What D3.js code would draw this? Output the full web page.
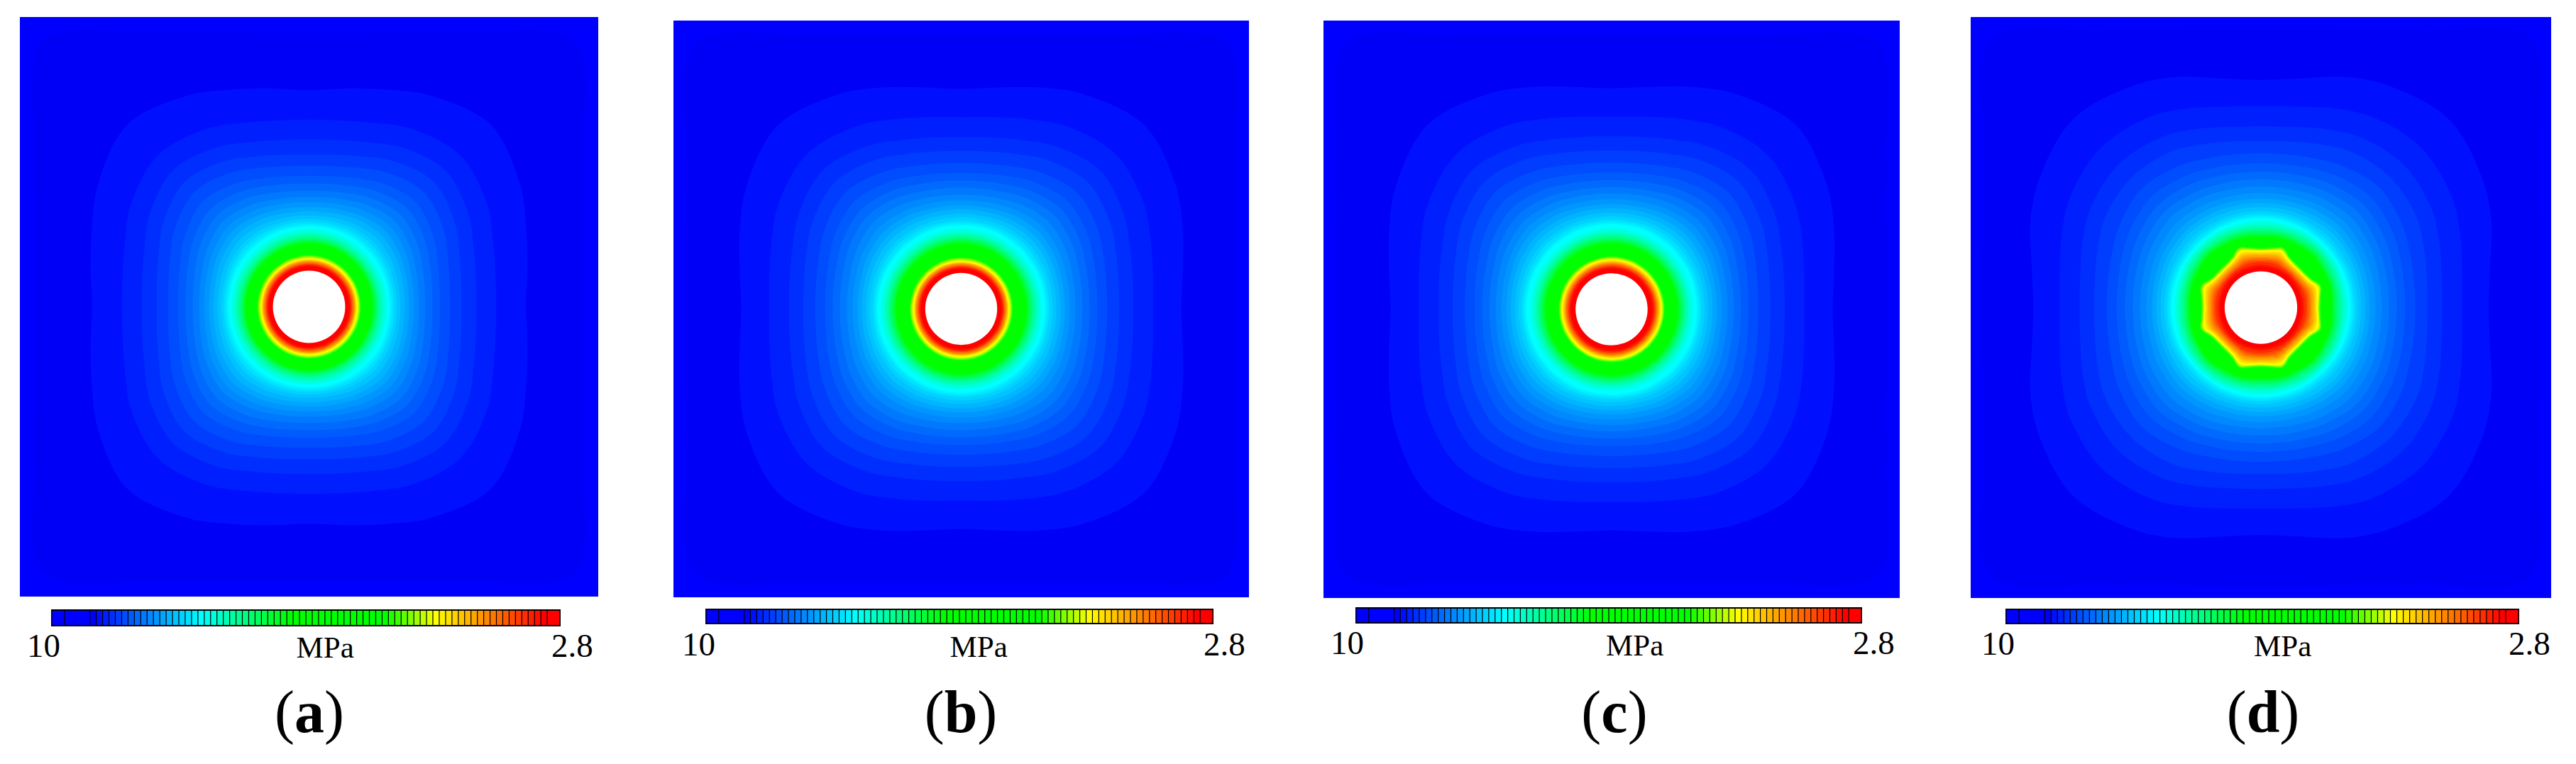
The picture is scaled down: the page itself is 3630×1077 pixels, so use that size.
<!DOCTYPE html>
<html>
<head>
<meta charset="utf-8">
<script src="https://cdn.jsdelivr.net/npm/d3@7"></script>
<style>
  body { margin: 0; background: #fff; }
  text { font-family: "Liberation Serif", "Times New Roman", serif; fill: #000; }
</style>
</head>
<body>
<div class="stress-maps"></div>
<script>
// colour bar: 80 cells from 10 MPa (blue) to 2.8 MPa (red)
var barLabels = ["10", "2.8"];
var barUnit = "MPa";
var panelNames = ["a", "b", "c", "d"];
var barRuns = [2, 4].concat(d3.range(72).map(function() { return 1; }), [2]);
var cellStops = [0, 5, 6, 7, 23, 37, 52, 60, 77, 79];
var cellColors = ["#0000ff", "#0000ff", "#0000f6", "#0010ff", "#00ffff", "#00ff00", "#00ff00", "#ffff00", "#ff0000", "#ff0000"];

// contours are read along rays, angle from the nearest axis, mirrored round the hole
var rayAngles = [0, 10, 20, 30, 45];
var holeRadius = 51;

// colour cell of every contour, outside to inside
var outerLevels = [6, 7, 8, 9, 10, 11, 12, 13, 14, 15, 16, 17, 18, 19, 20, 21, 22, 23];
var innerLevels = [25, 27, 29, 31, 33, 35, 37, 53, 54, 56, 58, 60, 62, 64, 66, 68, 70, 72, 74, 76, 77];

var outerA = [
  [387, 393, 412, 447, 530], [306, 313, 326, 344, 363], [264, 267, 276, 290, 302],
  [236, 239, 247, 260, 272], [215, 218, 225.5, 237.5, 249], [199, 201.5, 208.5, 219, 229],
  [185, 187, 193, 202, 211], [174, 176, 181, 188.5, 196], [164, 165.5, 170, 176.5, 183],
  [155, 156.5, 160, 165.5, 171], [148, 149, 152, 156.5, 161], [141, 142, 144.5, 148, 152],
  [135, 135.5, 138, 141, 144], [129, 129.5, 131, 133.5, 136], [124, 124.5, 125.5, 127.5, 129],
  [120, 120.5, 121, 122.5, 124], [117, 117, 117.5, 118.5, 119], [114, 114, 114.5, 115, 115]
];
var outerB = [
  [390, 396, 414, 449, 532], [312, 319, 334, 351, 368], [272, 276, 286, 299, 310],
  [244, 247, 254.5, 266.5, 278], [224, 226.5, 233.5, 244, 254], [207, 209, 215, 224, 233],
  [193, 195, 200, 207.5, 215], [182, 183.5, 187.5, 194, 200], [172, 173, 176.5, 182, 187],
  [162, 163, 166, 170.5, 175], [154, 155, 157, 160.5, 164], [147, 147.5, 149.5, 152.5, 155],
  [141, 141.5, 143, 145, 147], [135, 135.5, 136.5, 138.5, 140], [130, 130, 131, 132, 133],
  [125, 125, 126, 127, 128], [122, 122, 122.5, 122.5, 123], [119, 119, 119.5, 119.5, 120]
];
var outerC = [
  [390, 396, 414, 449, 532], [313, 320, 335, 352, 369], [273, 277, 287, 300, 311],
  [245, 248, 255.5, 267.5, 279], [225, 227.5, 234.5, 245, 255], [208, 210, 216, 225, 234],
  [194, 196, 201, 208.5, 216], [183, 184.5, 188.5, 195, 201], [173, 174, 177.5, 183, 188],
  [164, 165, 168, 172, 176], [156, 157, 159, 162.5, 166], [149, 149.5, 151.5, 154.5, 157],
  [143, 143.5, 145, 147, 149], [137, 137.5, 138.5, 140.5, 142], [132, 132, 133, 134, 135],
  [127, 127, 128, 129, 130], [124, 124, 124.5, 124.5, 125], [121, 121, 121.5, 121.5, 122]
];
var outerD = [
  [392, 398, 415, 450, 535], [320, 327, 345, 360, 374], [283, 287, 298, 310, 318],
  [255, 258, 267, 277, 284], [234, 237, 244, 253, 258], [217, 218.5, 223, 230, 237],
  [203, 204, 208, 213.5, 219], [191, 192, 195, 199.5, 204], [180, 181, 183.5, 187, 191],
  [170, 170.5, 173, 176, 179], [161, 161.5, 163, 165.5, 168], [153, 153.5, 155, 157, 159],
  [147, 147.5, 148, 149.5, 151], [141, 141.5, 142, 143.5, 145], [136, 136, 136.5, 137, 138],
  [132, 132, 132.5, 132.5, 133], [129, 129, 129, 129, 129], [126, 126, 126, 126, 126]
];

// a, b and c are round near the hole, d has the octagon
var innerA = [109, 104, 100, 97, 94, 92, 90, 73, 72.5, 71.5, 70.5, 68.5, 67, 66, 65, 64, 62.5, 61, 60, 58.5, 57];
var innerB = [113, 108, 104, 101, 98, 95, 93, 73, 72.5, 71.5, 70.5, 68.5, 67, 66, 65, 64, 62.5, 61, 60, 58.5, 57];
var innerC = [114, 109, 105, 102, 99, 96, 94, 75, 74.5, 73.5, 72.5, 71, 69.5, 68, 66.5, 65.5, 64, 62.5, 61, 59.5, 57.5];
var innerD = [
  [121, 121, 121, 122, 122], [116, 116, 117, 118, 118], [112, 113, 113, 114, 115],
  [108, 109, 110, 110, 112], [105, 106, 107, 107, 109], [102, 103, 104, 104, 106],
  [100, 101, 102, 102, 104], [84, 86, 90, 82, 79], [83, 85, 89, 81, 78],
  [82, 84, 88, 80, 77], [81, 83, 87, 79, 76], [80, 82, 85, 78, 75],
  [78, 80, 82, 76, 73.5], [76, 77.5, 79, 74, 72], [74, 75, 76, 72, 70],
  [71, 72, 73, 70, 68], [69, 69.5, 70, 67, 66], [66, 67, 67, 65, 64],
  [64, 64, 64, 63, 62], [60, 60, 60, 60, 60], [57, 57, 57, 57, 57]
];

var outerRows = [outerA, outerB, outerC, outerD];
var innerRows = [innerA, innerB, innerC, innerD];

// page layout of each panel
var width = 3630;
var height = 1077;
var layout = [
  { x0: 28, x1: 843, y0: 24, y1: 841, barX0: 72, barX1: 790, barY0: 859, barY1: 883,
    tenX: 38, twoX: 777, valueY: 926, unitX: 417.5, unitY: 927, labelX: 436 },
  { x0: 949, x1: 1760, y0: 29, y1: 842, barX0: 994, barX1: 1710, barY0: 858, barY1: 880,
    tenX: 961, twoX: 1696, valueY: 924, unitX: 1338.5, unitY: 926, labelX: 1354 },
  { x0: 1865, x1: 2677, y0: 29, y1: 843, barX0: 1910, barX1: 2624, barY0: 856, barY1: 879,
    tenX: 1875, twoX: 2611, valueY: 922, unitX: 2263, unitY: 924, labelX: 2275 },
  { x0: 2777, x1: 3595, y0: 24, y1: 843, barX0: 2826, barX1: 3550, barY0: 858, barY1: 880,
    tenX: 2792, twoX: 3535, valueY: 923, unitX: 3176, unitY: 925, labelX: 3189 }
];

var svg = d3.select(".stress-maps")
            .append("svg")
              .attr("width", width)
              .attr("height", height);

var cellColor = d3.scaleLinear()
                  .domain(cellStops)
                  .range(cellColors)
                  .interpolate(d3.interpolateRgb);

// mirror one octant of radii into a closed outline
function outline(row) {
  var points = [];
  d3.range(4).forEach(function(q) {
    rayAngles.forEach(function(a, i) {
      points.push([q * 90 + a, row[i]]);
    });
    [3, 2, 1].forEach(function(i) {
      points.push([q * 90 + 90 - rayAngles[i], row[i]]);
    });
  });
  return points;
}

function toRow(r) {
  return Array.isArray(r) ? r : rayAngles.map(function() { return r; });
}

panelNames.forEach(function(name, p) {
  var box = layout[p];
  var fieldW = box.x1 - box.x0;
  var cx = (box.x0 + box.x1) / 2;
  var cy = (box.y0 + box.y1) / 2;

  var radius = d3.scaleLinear().domain([0, 408]).range([0, fieldW / 2]);
  var contour = d3.lineRadial()
                  .angle(function(d) { return d[0] * Math.PI / 180; })
                  .radius(function(d) { return radius(d[1]); })
                  .curve(d3.curveCatmullRomClosed);

  svg.append("clipPath")
      .attr("id", "clip-" + name)
    .append("rect")
      .attr("x", box.x0)
      .attr("y", box.y0)
      .attr("width", fieldW)
      .attr("height", box.y1 - box.y0);

  var field = svg.append("g").attr("clip-path", "url(#clip-" + name + ")");

  field.append("rect")
      .attr("x", box.x0)
      .attr("y", box.y0)
      .attr("width", fieldW)
      .attr("height", box.y1 - box.y0)
      .attr("fill", cellColor(0));

  var bands = outerLevels.map(function(level, i) {
    return { level: level, row: outerRows[p][i] };
  }).concat(innerLevels.map(function(level, i) {
    return { level: level, row: toRow(innerRows[p][i]) };
  }));

  field.append("g")
      .attr("transform", "translate(" + cx + "," + cy + ")")
    .selectAll("path")
    .data(bands)
    .enter()
    .append("path")
      .attr("d", function(d) { return contour(outline(d.row)); })
      .attr("fill", function(d) { return cellColor(d.level); });

  field.append("circle")
      .attr("cx", cx)
      .attr("cy", cy)
      .attr("r", radius(holeRadius))
      .attr("fill", "#fff");

  // colour bar
  var barX = d3.scaleLinear().domain([0, d3.sum(barRuns)]).range([box.barX0 + 1, box.barX1 - 1]);
  var start = 0;
  var cells = barRuns.map(function(run) {
    var cell = { start: start, run: run };
    start += run;
    return cell;
  });

  svg.append("rect")
      .attr("x", box.barX0)
      .attr("y", box.barY0)
      .attr("width", box.barX1 - box.barX0)
      .attr("height", box.barY1 - box.barY0)
      .attr("fill", "#000");

  svg.append("g")
    .selectAll("rect")
    .data(cells)
    .enter()
    .append("rect")
      .attr("x", function(d) { return barX(d.start) + 0.6; })
      .attr("y", box.barY0 + 2)
      .attr("width", function(d) { return barX(d.start + d.run) - barX(d.start) - 1.2; })
      .attr("height", box.barY1 - box.barY0 - 4)
      .attr("fill", function(d) { return cellColor(d.start); });

  svg.append("text")
      .attr("x", box.tenX)
      .attr("y", box.valueY)
      .attr("font-size", 47)
      .text(barLabels[0]);

  svg.append("text")
      .attr("x", box.twoX)
      .attr("y", box.valueY)
      .attr("font-size", 47)
      .text(barLabels[1]);

  svg.append("text")
      .attr("x", box.unitX)
      .attr("y", box.unitY)
      .attr("font-size", 43)
      .text(barUnit);

  // panel label: roman brackets, bold letter
  var label = svg.append("text")
      .attr("x", box.labelX)
      .attr("y", 1032)
      .attr("font-size", 84)
      .attr("text-anchor", "middle");
  label.append("tspan").text("(");
  label.append("tspan").attr("font-weight", "bold").text(name);
  label.append("tspan").text(")");
});
</script>
</body>
</html>
